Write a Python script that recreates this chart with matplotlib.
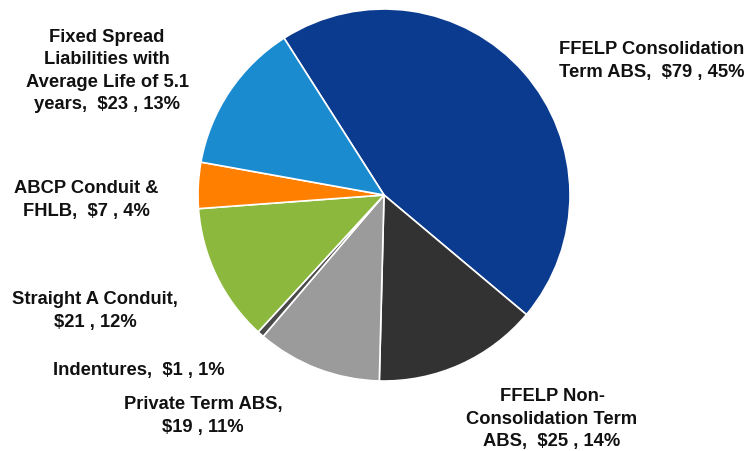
import matplotlib
matplotlib.use("Agg")
import matplotlib.pyplot as plt

# Funding sources ($ billions), listed clockwise from the top
names = [
    "FFELP Consolidation\nTerm ABS",
    "FFELP Non-\nConsolidation Term\nABS",
    "Private Term ABS",
    "Indentures",
    "Straight A Conduit",
    "ABCP Conduit &\nFHLB",
    "Fixed Spread\nLiabilities with\nAverage Life of 5.1\nyears",
]
values = [79, 25, 19, 1, 21, 7, 23]
# text placed between the name and the amount
separators = [",  ", ",  ", ",\n", ",  ", ",\n", ",  ", ",  "]
colors = ["#0A3B8F", "#323232", "#9B9B9B", "#4A4A4A", "#8CB83D", "#FF8000", "#1B8BD0"]

# label anchor points in pixel coordinates (x, y from top)
label_pos = [(652, 61), (552, 419), (203, 416), (139, 370), (95, 311), (86, 200), (107, 71)]

W, H = 750, 451
fig = plt.figure(figsize=(W / 100, H / 100), dpi=100)
ax = fig.add_axes([0, 0, 1, 1])

ax.pie(values, colors=colors, startangle=122.5, counterclock=False,
       center=(384, H - 195), radius=186, frame=True,
       wedgeprops=dict(edgecolor="white", linewidth=1.2))
ax.set_xlim(0, W)
ax.set_ylim(0, H)
ax.set_aspect("equal")
ax.axis("off")

total = sum(values)
for name, sep, v, (x, y) in zip(names, separators, values, label_pos):
    pct = round(v / total * 100)
    text = f"{name}{sep}${v} , {pct}%"
    ax.text(x, H - y, text, ha="center", va="center", multialignment="center",
            fontsize=13.2, fontweight="bold", family="Liberation Sans",
            color="#111111", linespacing=1.43)

fig.savefig("out.png", dpi=100, facecolor="white")
